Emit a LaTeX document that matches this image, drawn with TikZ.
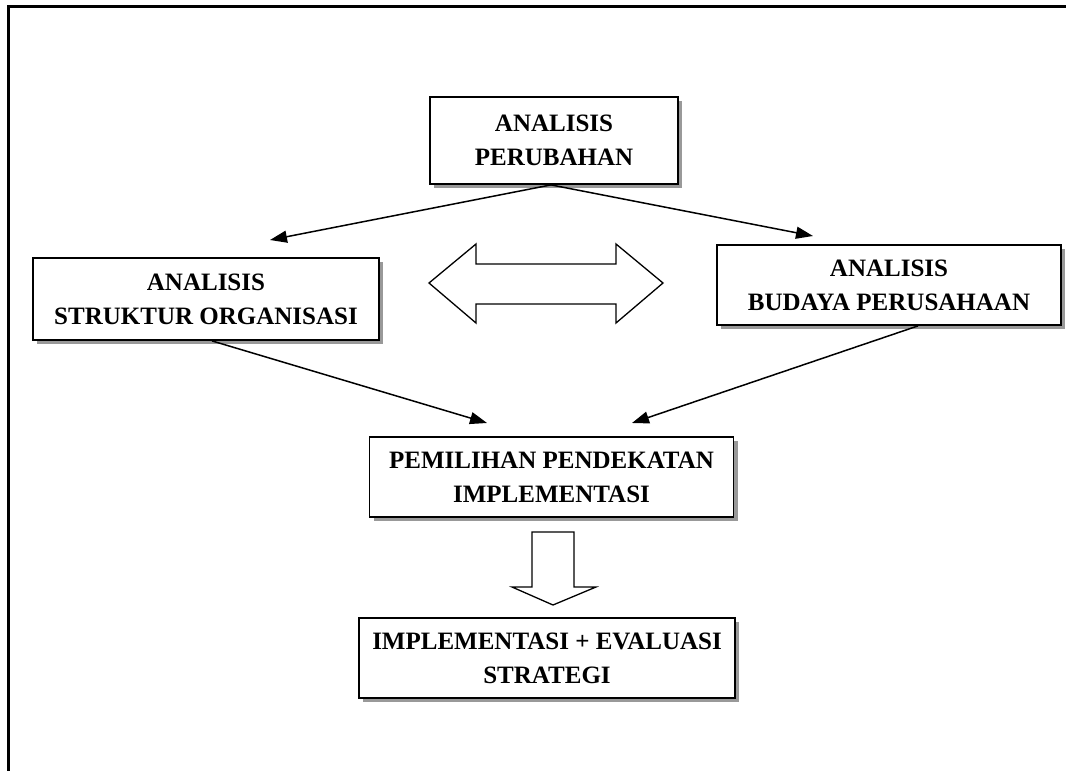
\documentclass[tikz,border=0pt]{standalone}
\usepackage{fontspec}
\setmainfont{Liberation Serif}
\usetikzlibrary{arrows.meta,shadows,calc}

\tikzset{
  flowbox/.style={draw=black, line width=1.8pt, fill=white, align=center,
    inner sep=0pt, font=\fontsize{25}{34}\selectfont\bfseries,
    drop shadow={shadow xshift=4pt, shadow yshift=-4pt, fill=black!40, opacity=1}},
  link/.style={line width=1.5pt, -{Triangle[length=17pt,width=12pt]}},
  blockarrow/.style={draw=black, line width=1.3pt, fill=white, line join=miter},
  frame/.style={line width=2.2pt}
}

\begin{document}
\begin{tikzpicture}[x=1pt,y=-1pt]
  \useasboundingbox (0,0) rectangle (1066,771);

  % page frame (open at right and bottom)
  \draw[frame] (8.5,771) -- (8.5,6.5) -- (1066,6.5);

  % boxes
  \node[flowbox, minimum width=248pt, minimum height=87pt] (chg) at (554,140.5)
    {ANALISIS\\PERUBAHAN};
  \node[flowbox, minimum width=346pt, minimum height=82pt] (org) at (206,299)
    {ANALISIS\\STRUKTUR ORGANISASI};
  \node[flowbox, minimum width=344pt, minimum height=80pt] (cul) at (889,285)
    {ANALISIS\\BUDAYA PERUSAHAAN};
  \node[flowbox, minimum width=364pt, minimum height=80pt] (sel) at (551.5,477)
    {PEMILIHAN PENDEKATAN\\IMPLEMENTASI};
  \node[flowbox, minimum width=376pt, minimum height=80pt] (imp) at (547,658)
    {IMPLEMENTASI + EVALUASI\\STRATEGI};

  % arrow tips ending above the target boxes
  \coordinate (tOrg) at (270,240);
  \coordinate (tCul) at (813,236);
  \coordinate (tSelL) at (487,423);
  \coordinate (tSelR) at (632,423);

  \draw[link] ([xshift=-3pt]chg.south) -- (tOrg);
  \draw[link] ([xshift=-3pt]chg.south) -- (tCul);
  \draw[link] ([xshift=6pt]org.south) -- (tSelL);
  \draw[link] ([xshift=29pt]cul.south) -- (tSelR);

  % two-headed block arrow between the analyses
  \draw[blockarrow] (429,283) -- (476,244) -- (476,264) -- (616,264) -- (616,244)
    -- (663,283) -- (616,323) -- (616,304) -- (476,304) -- (476,323) -- cycle;

  % downward block arrow
  \draw[blockarrow] (532,532) -- (574,532) -- (574,587) -- (596,587) -- (553,605)
    -- (512,587) -- (532,587) -- cycle;
\end{tikzpicture}
\end{document}
